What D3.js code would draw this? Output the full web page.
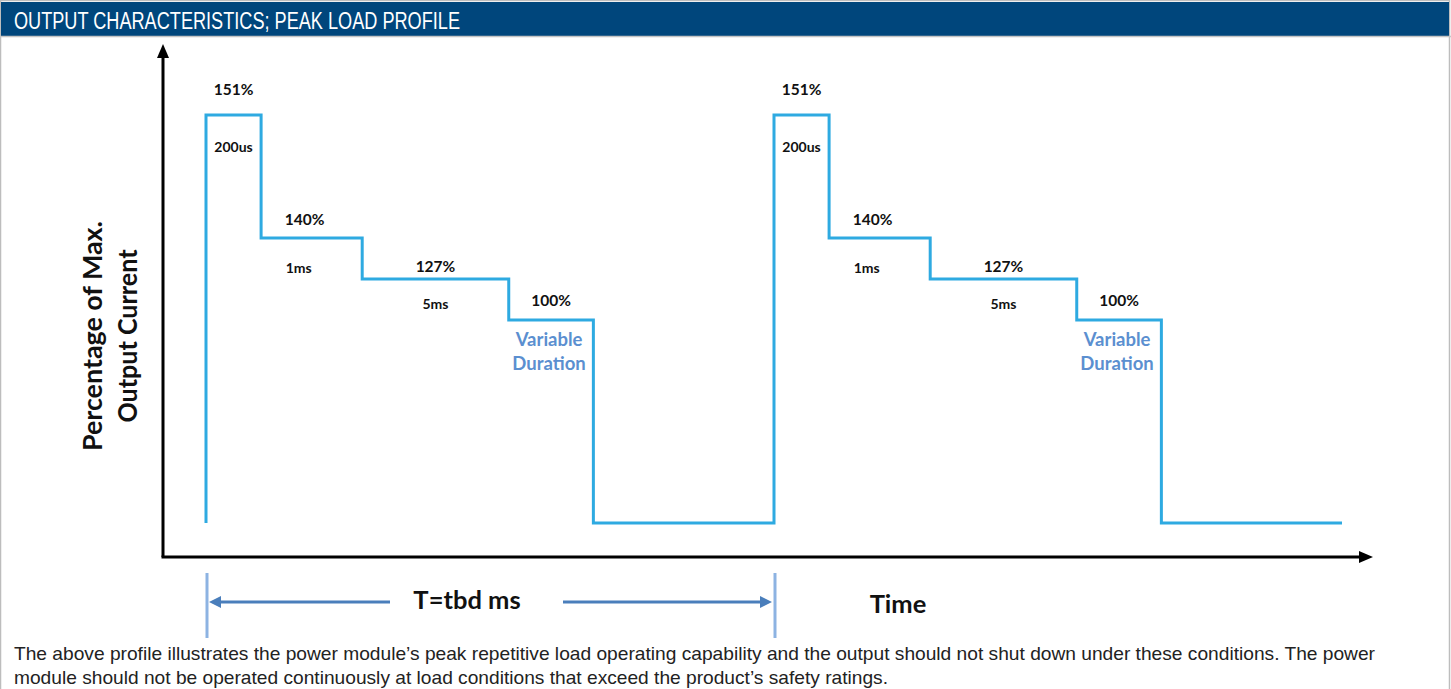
<!DOCTYPE html>
<html>
<head>
<meta charset="utf-8">
<script src="https://cdn.jsdelivr.net/npm/d3@7/dist/d3.min.js"></script>
<style>
  html, body { margin: 0; padding: 0; background: #fff; }
  svg { display: block; }
  .lbl { font-family: Lato, "Open Sans", sans-serif; font-weight: 700; fill: #111; }
  .narrow { font-family: "Liberation Sans Narrow", "Liberation Sans", Arial, sans-serif; }
</style>
</head>
<body>
<svg id="chart" width="1451" height="689"></svg>
<script>
// schematic profile data (one period = 10 time units, not to scale)
const levels = [151, 140, 127, 100, 0];
const levelLabels = ["151%", "140%", "127%", "100%", ""];
const durations = [0.97, 1.78, 2.58, 1.49, 3.18];
const durationLabels = ["200us", "1ms", "5ms", "Variable Duration", ""];
const cycles = 2;
const period = 10;

// y positions are schematic too, so the scale is piecewise
const yDomain = [0, 100, 127, 140, 151];

const titleText = "OUTPUT CHARACTERISTICS; PEAK LOAD PROFILE";
const noteLines = [
  "The above profile illustrates the power module\u2019s peak repetitive load operating capability and the output should not shut down under these conditions. The power",
  "module should not be operated continuously at load conditions that exceed the product\u2019s safety ratings."
];

const W = 1451, H = 689;
const svg = d3.select("#chart");

const x = d3.scaleLinear().domain([0, cycles * period]).range([206, 1342]);
const y = d3.scaleLinear().domain(yDomain).range([523, 320, 279, 238, 115]);

const lineBlue = "#2eaae1";
const dimBlue = "#4a7ebb";
const axisOrigin = [163, 557];

// frame + header
svg.append("rect").attr("x", 0.5).attr("y", 0.5).attr("width", W - 2).attr("height", H + 5)
  .attr("fill", "#fff").attr("stroke", "#bdbdbd").attr("stroke-width", 1.5);
svg.append("rect").attr("x", 1).attr("y", 2).attr("width", W - 3).attr("height", 34).attr("fill", "#00467c");
svg.append("line").attr("x1", 0).attr("x2", W).attr("y1", 36.5).attr("y2", 36.5)
  .attr("stroke", "#c4c4c4").attr("stroke-width", 1.5);
svg.append("text").attr("class", "narrow").attr("x", 14).attr("y", 28.5)
  .attr("font-size", 23).attr("fill", "#fff")
  .attr("textLength", 446).attr("lengthAdjust", "spacingAndGlyphs")
  .text(titleText);

// axes with arrowheads
const axisG = svg.append("g");
axisG.append("line").attr("x1", axisOrigin[0]).attr("x2", axisOrigin[0])
  .attr("y1", axisOrigin[1]).attr("y2", 56).attr("stroke", "#000").attr("stroke-width", 3);
axisG.append("path").attr("d", `M ${axisOrigin[0]} 44 L ${axisOrigin[0] - 6} 58 L ${axisOrigin[0] + 6} 58 Z`).attr("fill", "#000");
axisG.append("line").attr("x1", axisOrigin[0] - 1.5).attr("x2", 1360)
  .attr("y1", axisOrigin[1]).attr("y2", axisOrigin[1]).attr("stroke", "#000").attr("stroke-width", 3);
axisG.append("path").attr("d", `M 1373 ${axisOrigin[1]} L 1359 ${axisOrigin[1] - 6} L 1359 ${axisOrigin[1] + 6} Z`).attr("fill", "#000");

// build step profile
const pts = [[0, 0]];
const segs = [];
for (let c = 0; c < cycles; c++) {
  let t = c * period;
  levels.forEach((lv, i) => {
    pts.push([t, lv]);
    segs.push({ t0: t, t1: t + durations[i], level: lv, i });
    t += durations[i];
    pts.push([t, lv]);
  });
}

svg.append("path")
  .datum(pts)
  .attr("fill", "none")
  .attr("stroke", lineBlue)
  .attr("stroke-width", 3)
  .attr("stroke-linejoin", "miter")
  .attr("d", d3.line().x((d) => x(d[0])).y((d) => y(d[1])));

// labels
const labelG = svg.append("g");
const pctOffset = [20, 13, 7, 14];
const pctShift = [0, -7, 0, 0];
const durOffset = [37, 35, 30, 0];
segs.forEach((s) => {
  const cx = x((s.t0 + s.t1) / 2);
  if (levelLabels[s.i]) {
    labelG.append("text").attr("class", "lbl").attr("x", cx + pctShift[s.i]).attr("y", y(s.level) - pctOffset[s.i])
      .attr("text-anchor", "middle").attr("font-size", 15.5).text(levelLabels[s.i]);
  }
  if (s.i < 3) {
    labelG.append("text").attr("class", "lbl").attr("x", s.i === 1 ? cx - 13 : cx).attr("y", y(s.level) + durOffset[s.i])
      .attr("text-anchor", "middle").attr("font-size", 14).text(durationLabels[s.i]);
  } else if (s.i === 3) {
    durationLabels[3].split(" ").forEach((w, k) => {
      labelG.append("text").attr("class", "lbl").attr("x", cx - 2).attr("y", y(s.level) + 26 + k * 24)
        .attr("text-anchor", "middle").attr("font-size", 18.5)
        .style("fill", "#5b8fd0").text(w);
    });
  }
});

// y axis title
const yTitle = svg.append("text").attr("class", "lbl").attr("font-size", 26)
  .attr("transform", "translate(102,336) rotate(-90)").attr("text-anchor", "middle");
yTitle.append("tspan").attr("x", 0).attr("y", 0).attr("textLength", 230).attr("lengthAdjust", "spacingAndGlyphs").text("Percentage of Max.");
yTitle.append("tspan").attr("x", 0).attr("y", 35).attr("textLength", 173).attr("lengthAdjust", "spacingAndGlyphs").text("Output Current");

// period dimension
const dimG = svg.append("g");
[0, period].forEach((t) => {
  dimG.append("line").attr("x1", x(t) + 1).attr("x2", x(t) + 1).attr("y1", 573).attr("y2", 638)
    .attr("stroke", "#8db3e2").attr("stroke-width", 3);
});
const dimY = 602;
dimG.append("line").attr("x1", x(0) + 12).attr("x2", 390).attr("y1", dimY).attr("y2", dimY)
  .attr("stroke", dimBlue).attr("stroke-width", 3);
dimG.append("path").attr("d", `M ${x(0) + 3} ${dimY} L ${x(0) + 15} ${dimY - 6} L ${x(0) + 15} ${dimY + 6} Z`).attr("fill", dimBlue);
dimG.append("line").attr("x1", 563).attr("x2", x(period) - 12).attr("y1", dimY).attr("y2", dimY)
  .attr("stroke", dimBlue).attr("stroke-width", 3);
dimG.append("path").attr("d", `M ${x(period) - 2} ${dimY} L ${x(period) - 14} ${dimY - 6} L ${x(period) - 14} ${dimY + 6} Z`).attr("fill", dimBlue);

svg.append("text").attr("class", "lbl").attr("x", 467).attr("y", 609).attr("text-anchor", "middle")
  .attr("font-size", 25.5).text("T=tbd ms");
svg.append("text").attr("class", "lbl").attr("x", 898).attr("y", 613).attr("text-anchor", "middle")
  .attr("font-size", 25.5).text("Time");

// footnote
const noteLengths = [1361, 874];
noteLines.forEach((line, i) => {
  svg.append("text").attr("class", "narrow").attr("x", 14).attr("y", 660 + i * 24)
    .attr("font-size", 18.5).attr("fill", "#222")
    .attr("textLength", noteLengths[i]).attr("lengthAdjust", "spacingAndGlyphs")
    .text(line);
});
</script>
</body>
</html>
